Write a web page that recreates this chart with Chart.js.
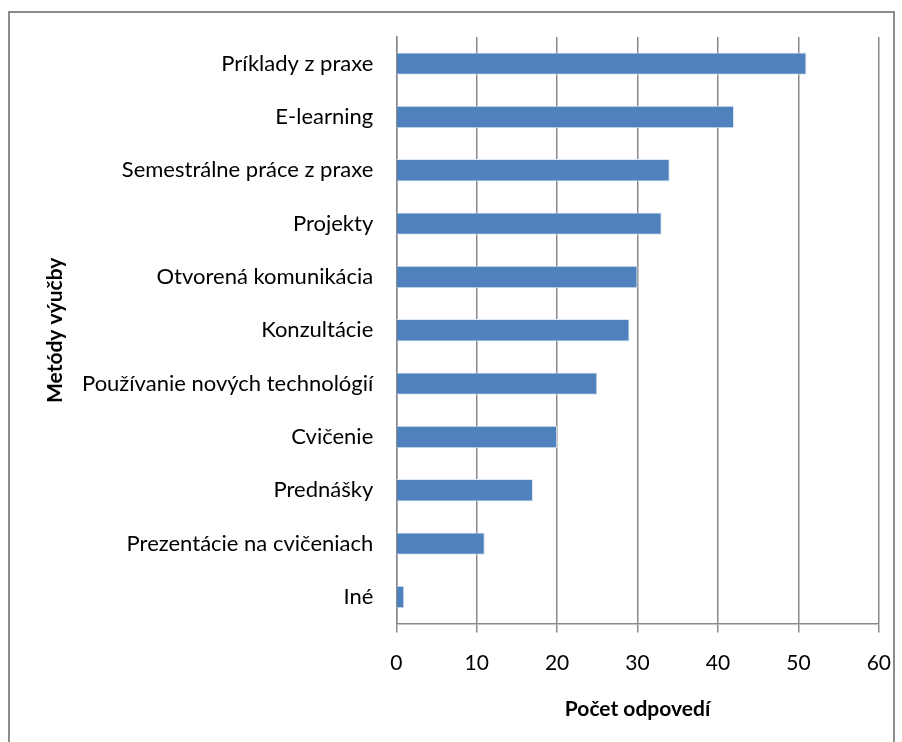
<html>
<head>
<script src="https://cdn.jsdelivr.net/npm/chart.js@4.4.1/dist/chart.umd.min.js"></script>
</head>
<body style="margin:0; background:#fff; overflow:hidden;">
<div style="position:absolute; left:8px; top:11px; width:887px; height:740px; border:2px solid #8c8c8c; box-sizing:border-box;">
  <canvas id="metody" width="883" height="727"></canvas>
</div>
<script>
const categories = [
  "Príklady z praxe",
  "E-learning",
  "Semestrálne práce z praxe",
  "Projekty",
  "Otvorená komunikácia",
  "Konzultácie",
  "Používanie nových technológií",
  "Cvičenie",
  "Prednášky",
  "Prezentácie na cvičeniach",
  "Iné"
];
const answers = [51, 42, 34, 33, 30, 29, 25, 20, 17, 11, 1];
const xTicks = [0, 10, 20, 30, 40, 50, 60];

const font = "Lato, 'Open Sans', sans-serif";

new Chart("metody", {
  type: "bar",
  data: {
    labels: categories,
    datasets: [{
      data: answers,
      backgroundColor: "#4f81bd",
      borderColor: "#dbe6f4",
      borderWidth: 1,
      categoryPercentage: 1,
      barPercentage: 0.42
    }]
  },
  options: {
    indexAxis: "y",
    responsive: false,
    animation: false,
    layout: { padding: { left: 35, right: 0, top: 24, bottom: 14 } },
    plugins: { legend: { display: false }, tooltip: { enabled: false } },
    scales: {
      x: {
        min: 0, max: 60,
        afterBuildTicks: s => { s.ticks = xTicks.map(v => ({ value: v })); },
        // long tick length keeps labels low, dash shows only 8px of the mark
        grid: { color: "#898989", lineWidth: 1.5, tickLength: 25, tickBorderDash: [8, 60] },
        border: { color: "#898989", width: 1.5 },
        ticks: { color: "#000", font: { family: font, size: 21 }, padding: 2 },
        title: { display: true, text: "Počet odpovedí", color: "#000",
                 font: { family: font, size: 21, weight: "bold" }, padding: { top: 19, bottom: 4 } }
      },
      y: {
        grid: { display: false, drawTicks: true, tickLength: 23, tickColor: "rgba(0,0,0,0)" },
        border: { color: "#898989", width: 1.5 },
        ticks: { color: "#000", font: { family: font, size: 22 }, padding: 0 },
        title: { display: true, text: "Metódy výučby", color: "#000",
                 font: { family: font, size: 21, weight: "bold", lineHeight: 1 }, padding: { top: 0, bottom: 16 } }
      }
    }
  }
});
</script>
</body>
</html>
